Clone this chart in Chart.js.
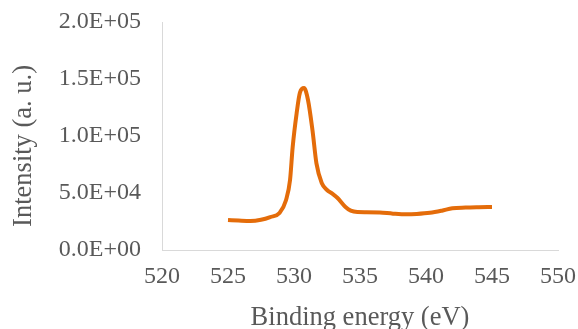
<!DOCTYPE html>
<html>
<head>
<meta charset="utf-8">
<script src="https://cdn.jsdelivr.net/npm/chart.js@4"></script>
<style>
  html, body { margin: 0; padding: 0; background: #fff; }
  #wrap { width: 578px; height: 329px; }
</style>
</head>
<body>
<div id="wrap"><canvas id="xps-chart"></canvas></div>
<script>
// O 1s spectrum
const bindingEnergy = [525, 525.8, 526.7, 527.5, 528.2, 528.9, 529.4, 529.7, 529.9, 530.2, 530.45, 530.76, 531.06, 531.4, 531.7, 532.1, 532.5, 532.9, 533.3, 533.9, 534.3, 534.8, 535.5, 536.5, 537.5, 538.5, 539.3, 540.3, 541.2, 542, 543, 544, 545];
const intensity = [26300, 25800, 25400, 26500, 28900, 32500, 43900, 61400, 90400, 120000, 138000, 142000, 131600, 105000, 76000, 58800, 52600, 49500, 45600, 37700, 34500, 33300, 33200, 32900, 31900, 31300, 31600, 32600, 34500, 36600, 37200, 37500, 37700];
const yTicks = [0, 50000, 100000, 150000, 200000];
const xTicks = [520, 525, 530, 535, 540, 545, 550];

const points = bindingEnergy.map((e, i) => ({ x: e, y: intensity[i] }));

// Excel-style scientific label, e.g. 1.5E+05
function sci(v) {
  const [m, exp] = v.toExponential(1).split("e");
  const sign = exp[0] === "-" ? "-" : "+";
  const digits = exp.replace(/[+-]/, "").padStart(2, "0");
  return m + "E" + sign + digits;
}

const serif = "'Liberation Serif', 'Times New Roman', serif";
const gray = "#595959";
const axisGray = "#d9d9d9";

new Chart(document.getElementById("xps-chart"), {
  type: "line",
  data: {
    datasets: [{
      data: points,
      borderColor: "#e46c0a",
      borderWidth: 4,
      pointRadius: 0,
      cubicInterpolationMode: "monotone",
      fill: false,
    }],
  },
  options: {
    responsive: true,
    maintainAspectRatio: false,
    animation: false,
    layout: { padding: { left: 0, right: 20, top: 22, bottom: 0 } },
    plugins: { legend: { display: false }, tooltip: { enabled: false } },
    scales: {
      x: {
        type: "linear",
        min: 520,
        max: 550,
        afterBuildTicks: (s) => { s.ticks = xTicks.map(v => ({ value: v })); },
        afterFit: (s) => { s.height = 79; s.paddingLeft = 0; s.paddingRight = 0; },
        grid: { display: false, drawTicks: false },
        border: { display: true, color: axisGray, width: 1 },
        ticks: { color: gray, padding: 12, font: { family: serif, size: 24 } },
        title: {
          display: true,
          text: "Binding energy (eV)",
          color: gray,
          padding: { top: 0, bottom: -1 },
          font: { family: serif, size: 26.5, lineHeight: 0.9 },
        },
      },
      y: {
        min: 0,
        max: 200000,
        afterBuildTicks: (s) => { s.ticks = yTicks.map(v => ({ value: v })); },
        afterFit: (s) => { s.width = 162; s.paddingTop = 0; s.paddingBottom = 0; },
        grid: { display: false, drawTicks: false },
        border: { display: true, color: axisGray, width: 1 },
        ticks: { color: gray, padding: 21, callback: (v) => sci(v), font: { family: serif, size: 24 } },
        title: {
          display: true,
          text: "Intensity (a. u.)   ",
          color: gray,
          padding: { top: 12, bottom: 0 },
          font: { family: serif, size: 26.5, lineHeight: 0.9 },
        },
      },
    },
  },
});
</script>
</body>
</html>
